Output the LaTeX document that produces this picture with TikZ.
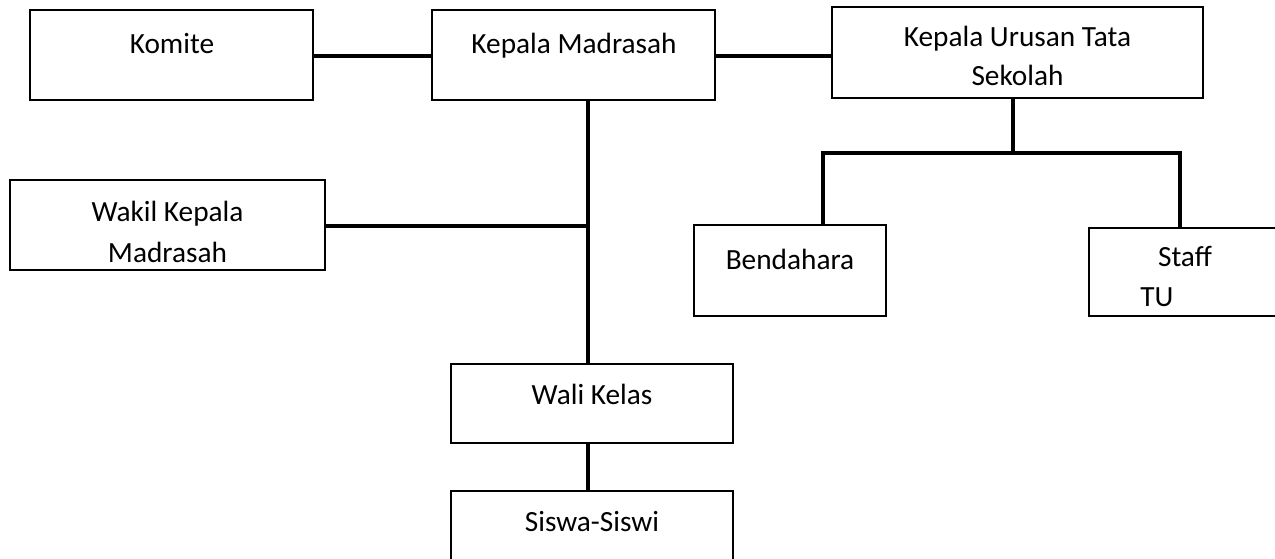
\documentclass[tikz,border=0pt]{standalone}
\usepackage{fontspec}
\setmainfont{Carlito}
\begin{document}
\begin{tikzpicture}[x=1pt,y=-1pt,
  orgbox/.style={draw=black,line width=2.7pt,fill=white,inner sep=0pt},
  conn/.style={line width=3.6pt,line cap=rect},
  lbl/.style={font=\fontsize{29.3}{34}\selectfont,anchor=base,inner sep=0pt}]
\useasboundingbox (0,0) rectangle (1275,559);
\begin{scope}
\clip (0,0) rectangle (1275,559);
\coordinate (spineX) at (588,0);
\coordinate (wakilY) at (0,226);
\coordinate (lineY) at (0,56);
\coordinate (tuX) at (1013,0);
\coordinate (branchL) at (823,153);
\coordinate (branchR) at (1180,153);
\coordinate (branchM) at (1013,153);
% boxes
\node[orgbox,minimum width=283pt,minimum height=90pt] (komite) at (171.5,55) {};
\node[orgbox,minimum width=283pt,minimum height=90pt] (kepala) at (573.5,55) {};
\node[orgbox,minimum width=371pt,minimum height=91pt] (kuts) at (1017.5,52.5) {};
\node[orgbox,minimum width=315pt,minimum height=90pt] (wakil) at (167.5,225) {};
\node[orgbox,minimum width=192pt,minimum height=91pt] (bend) at (790,270.5) {};
\node[orgbox,minimum width=200pt,minimum height=88pt] (staff) at (1189,272) {};
\node[orgbox,minimum width=282pt,minimum height=79pt] (wali) at (592,403.5) {};
\node[orgbox,minimum width=282pt,minimum height=90pt] (siswa) at (592,536) {};
% connectors
\draw[conn] (komite.east |- lineY) -- (kepala.west |- lineY);
\draw[conn] (kepala.east |- lineY) -- (kuts.west |- lineY);
\draw[conn] (kepala.south -| spineX) -- (wali.north -| spineX);
\draw[conn] (wakil.east |- wakilY) -- (spineX |- wakilY);
\draw[conn] (kuts.south -| tuX) -- (branchM);
\draw[conn] (bend.north -| branchL) -- (branchL) -- (branchR) -- (staff.north -| branchR);
\draw[conn] (wali.south -| spineX) -- (siswa.north -| spineX);
% texts
\node[lbl] (tkomite) at (172,54) {Komite};
\node[lbl] (tkepala) at (574,54) {Kepala Madrasah};
\node[lbl] (tkuts1) at (1017.5,47) {Kepala Urusan Tata};
\node[lbl] (tkuts2) at (1017.5,86) {Sekolah};
\node[lbl] (twakil1) at (167.5,222) {Wakil Kepala};
\node[lbl] (twakil2) at (167.5,262) {Madrasah};
\node[lbl] (tbend) at (790,269) {Bendahara};
\node[lbl] (tstaff) at (1185,266) {Staff};
\node[lbl] (ttu) at (1157,306) {TU};
\node[lbl] (twali) at (592,404) {Wali Kelas};
\node[lbl] (tsiswa) at (592,531) {Siswa-Siswi};
\end{scope}
\end{tikzpicture}
\end{document}
